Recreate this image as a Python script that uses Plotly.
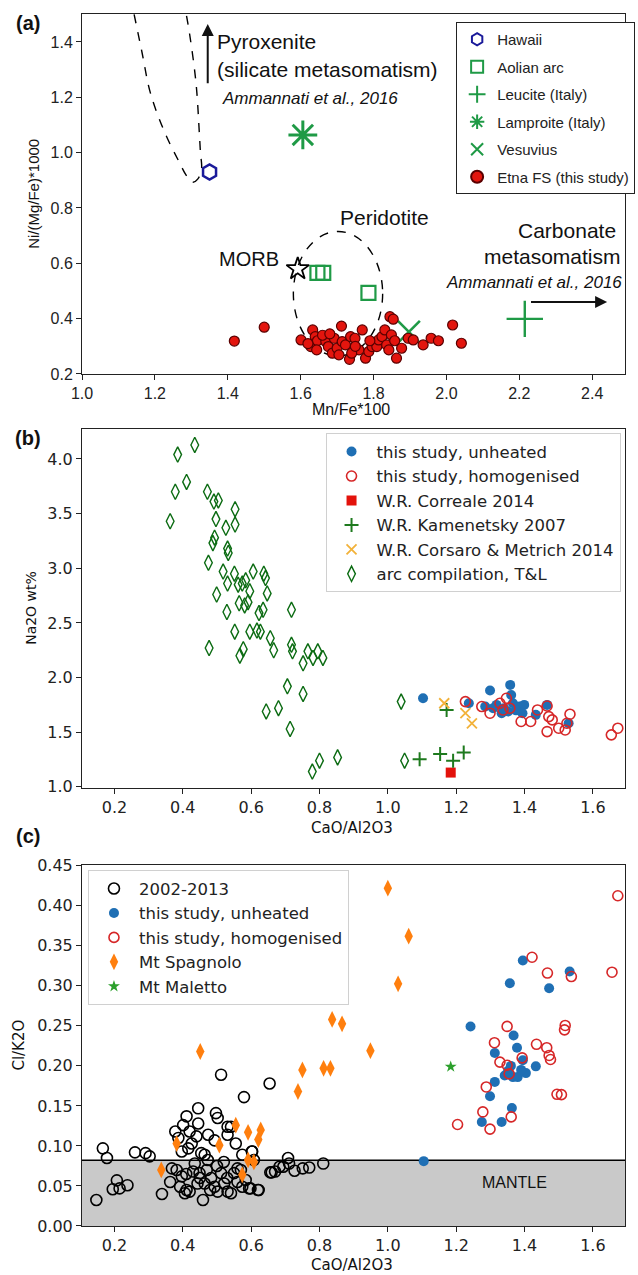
import plotly.graph_objects as go

# ---------------- Panel (a) data ----------------
hawaii_x, hawaii_y = [1.35], [0.93]
aolian_x, aolian_y = [1.646, 1.662, 1.786], [0.565, 0.565, 0.493]
leucite_x, leucite_y = [2.215], [0.399]
lamproite_x, lamproite_y = [1.606], [1.064]
vesuvius_x, vesuvius_y = [1.897], [0.352]
morb_x, morb_y = [1.592], [0.58]
etna_pts = [(1.418, 0.319), (1.50, 0.369), (1.601, 0.323), (1.628, 0.299), (1.633, 0.359),
            (1.64, 0.335), (1.646, 0.32), (1.644, 0.287), (1.669, 0.317), (1.676, 0.299),
            (1.687, 0.275), (1.692, 0.329), (1.70, 0.293), (1.705, 0.269), (1.712, 0.373),
            (1.714, 0.317), (1.723, 0.305), (1.734, 0.253), (1.737, 0.335), (1.749, 0.329),
            (1.76, 0.287), (1.769, 0.359), (1.778, 0.257), (1.787, 0.281), (1.796, 0.299),
            (1.809, 0.299), (1.814, 0.323), (1.823, 0.335), (1.831, 0.359), (1.836, 0.305),
            (1.842, 0.287), (1.849, 0.341), (1.845, 0.407), (1.854, 0.398), (1.863, 0.257),
            (1.877, 0.293), (1.895, 0.329), (1.909, 0.323), (1.936, 0.305), (1.958, 0.329),
            (1.978, 0.320), (2.017, 0.377), (2.041, 0.311), (1.66, 0.34), (1.74, 0.275),
            (1.858, 0.32), (1.79, 0.32), (1.62, 0.31), (1.68, 0.345), (1.75, 0.30)]
etna_x = [p[0] for p in etna_pts]
etna_y = [p[1] for p in etna_pts]
# pyroxenite field boundary (dashed curve)
pyrox_x = [1.143, 1.165, 1.188, 1.228, 1.264, 1.29, 1.304, 1.318, 1.328, 1.325, 1.322, 1.313, 1.295, 1.286]
pyrox_y = [1.50, 1.36, 1.214, 1.07, 0.973, 0.91, 0.893, 0.905, 0.94, 1.0, 1.07, 1.25, 1.431, 1.50]
# peridotite field (ellipse bounds)
perid_box = [1.58, 1.825, 0.265, 0.715]

# ---------------- Panel (b) data ----------------
b_unh = [(1.103, 1.811), (1.299, 1.881), (1.358, 1.933), (1.361, 1.841), (1.318, 1.75),
         (1.333, 1.674), (1.352, 1.689), (1.385, 1.735), (1.399, 1.75), (1.394, 1.674),
         (1.366, 1.765), (1.285, 1.735), (1.433, 1.659), (1.466, 1.75), (1.529, 1.582),
         (1.308, 1.72), (1.237, 1.765), (1.375, 1.70), (1.34, 1.72)]
b_hom = [(1.227, 1.78), (1.275, 1.735), (1.299, 1.674), (1.328, 1.765), (1.347, 1.811),
         (1.357, 1.72), (1.390, 1.598), (1.418, 1.598), (1.438, 1.704), (1.466, 1.74),
         (1.471, 1.643), (1.466, 1.506), (1.481, 1.613), (1.500, 1.537), (1.519, 1.521),
         (1.533, 1.665), (1.524, 1.582), (1.654, 1.476), (1.673, 1.537), (1.337, 1.704)]
b_correale = [(1.184, 1.131)]
b_kamen = [(1.172, 1.704), (1.093, 1.253), (1.153, 1.302), (1.191, 1.24), (1.222, 1.314)]
b_corsaro = [(1.165, 1.765), (1.227, 1.674), (1.246, 1.582)]
b_arc = [(0.435, 4.128), (0.385, 4.04), (0.411, 3.79), (0.378, 3.70), (0.363, 3.43), (0.472, 3.70),
         (0.491, 3.61), (0.504, 3.62), (0.497, 3.45), (0.553, 3.54), (0.553, 3.40), (0.526, 3.37),
         (0.488, 3.23), (0.493, 3.28), (0.531, 3.18), (0.533, 3.14), (0.475, 3.05), (0.518, 2.97),
         (0.551, 2.95), (0.531, 2.86), (0.499, 2.76), (0.529, 2.60), (0.562, 2.85), (0.574, 2.86),
         (0.584, 2.89), (0.606, 2.97), (0.596, 2.79), (0.565, 2.68), (0.581, 2.66), (0.591, 2.69),
         (0.637, 2.95), (0.642, 2.91), (0.647, 2.77), (0.635, 2.62), (0.623, 2.59), (0.617, 2.43),
         (0.627, 2.42), (0.596, 2.42), (0.552, 2.42), (0.656, 2.36), (0.666, 2.25), (0.577, 2.26),
         (0.567, 2.20), (0.477, 2.27), (0.718, 2.62), (0.718, 2.30), (0.721, 2.24), (0.752, 2.13),
         (0.766, 2.24), (0.781, 2.18), (0.795, 2.24), (0.81, 2.18), (0.706, 1.92), (0.752, 1.85),
         (0.680, 1.72), (0.644, 1.69), (0.714, 1.53), (0.779, 1.14), (0.80, 1.24), (0.853, 1.27),
         (1.039, 1.78), (1.049, 1.24)]

# ---------------- Panel (c) data ----------------
c_old = [(0.147, 0.0325), (0.166, 0.097), (0.178, 0.085), (0.195, 0.046), (0.207, 0.057),
         (0.215, 0.047), (0.238, 0.051), (0.26, 0.092), (0.291, 0.091), (0.303, 0.087),
         (0.339, 0.04), (0.363, 0.055), (0.368, 0.072), (0.382, 0.07), (0.392, 0.049),
         (0.397, 0.062), (0.406, 0.041), (0.411, 0.045), (0.42, 0.043), (0.43, 0.068),
         (0.435, 0.078), (0.443, 0.053), (0.449, 0.066), (0.459, 0.0325), (0.464, 0.053),
         (0.473, 0.0825), (0.483, 0.06), (0.493, 0.049), (0.502, 0.043), (0.512, 0.066),
         (0.521, 0.053), (0.531, 0.043), (0.541, 0.041), (0.55, 0.066), (0.56, 0.072),
         (0.574, 0.049), (0.584, 0.0575), (0.598, 0.047), (0.622, 0.045), (0.608, 0.0825),
         (0.656, 0.067), (0.67, 0.068), (0.694, 0.074), (0.708, 0.085), (0.711, 0.078),
         (0.727, 0.069), (0.751, 0.072), (0.77, 0.073), (0.811, 0.078), (0.683, 0.074),
         (0.66, 0.067), (0.62, 0.045), (0.594, 0.047), (0.602, 0.093),
         (0.445, 0.147), (0.411, 0.137), (0.401, 0.126), (0.378, 0.118), (0.387, 0.11),
         (0.42, 0.118), (0.445, 0.128), (0.44, 0.112), (0.426, 0.103), (0.397, 0.093),
         (0.416, 0.097), (0.454, 0.091), (0.474, 0.114), (0.497, 0.141), (0.502, 0.135),
         (0.512, 0.189), (0.531, 0.124), (0.531, 0.114), (0.541, 0.124), (0.555, 0.103),
         (0.579, 0.161), (0.654, 0.178), (0.574, 0.089), (0.603, 0.093), (0.493, 0.107),
         (0.464, 0.089), (0.50, 0.075), (0.52, 0.08), (0.45, 0.06), (0.47, 0.07),
         (0.53, 0.06), (0.56, 0.055), (0.48, 0.045), (0.41, 0.065), (0.57, 0.07)]
c_unh = [(1.105, 0.081), (1.395, 0.3316), (1.357, 0.3033), (1.472, 0.297), (1.532, 0.318),
         (1.242, 0.2493), (1.368, 0.238), (1.378, 0.2227), (1.313, 0.216), (1.433, 0.1994),
         (1.342, 0.188), (1.366, 0.186), (1.38, 0.186), (1.404, 0.191), (1.352, 0.194),
         (1.395, 0.207), (1.313, 0.18), (1.299, 0.162), (1.363, 0.1475), (1.275, 0.13),
         (1.333, 0.13), (1.39, 0.195), (1.36, 0.20)]
c_hom = [(1.422, 0.3357), (1.467, 0.316), (1.537, 0.3116), (1.656, 0.317), (1.349, 0.2493),
         (1.519, 0.2505), (1.517, 0.245), (1.312, 0.229), (1.435, 0.227), (1.465, 0.2227),
         (1.472, 0.213), (1.476, 0.208), (1.393, 0.21), (1.328, 0.2047), (1.349, 0.2008),
         (1.288, 0.1737), (1.495, 0.1645), (1.508, 0.1641), (1.278, 0.1425), (1.361, 0.1363),
         (1.204, 0.1268), (1.299, 0.121), (1.673, 0.4125), (1.355, 0.19)]
c_spag = [(0.451, 0.218), (0.75, 0.195), (0.737, 0.168), (0.555, 0.126), (0.591, 0.117),
          (0.628, 0.12), (0.621, 0.108), (0.382, 0.103), (0.507, 0.101), (0.337, 0.07),
          (0.574, 0.064), (0.591, 0.0825), (0.608, 0.08), (1.0, 0.422), (1.061, 0.362),
          (1.03, 0.3025), (0.837, 0.258), (0.866, 0.2525), (0.949, 0.219), (0.812, 0.197),
          (0.832, 0.197)]
c_maletto = [(1.184, 0.199)]
mantle_limit = 0.082


def xs(pts):
    return [p[0] for p in pts]


def ys(pts):
    return [p[1] for p in pts]


GREEN = "#1f9a46"
fig = go.Figure()

# ---- panel (a) traces ----
fig.add_trace(go.Scatter(x=pyrox_x, y=pyrox_y, mode="lines", line=dict(color="black", width=1.4, dash="dash", shape="spline"),
                         showlegend=False, hoverinfo="skip", xaxis="x", yaxis="y"))
fig.add_trace(go.Scatter(x=hawaii_x, y=hawaii_y, mode="markers", name="Hawaii", legend="legend", legendgroup="a1",
                         marker=dict(symbol="hexagon-open", size=15, color="#1a1a9a", line=dict(width=2.5)), xaxis="x", yaxis="y"))
fig.add_trace(go.Scatter(x=aolian_x, y=aolian_y, mode="markers", name="Aolian arc", legend="legend", legendgroup="a2",
                         marker=dict(symbol="square-open", size=14, color=GREEN, line=dict(width=2.2)), xaxis="x", yaxis="y"))
fig.add_trace(go.Scatter(x=leucite_x, y=leucite_y, mode="markers", name="Leucite (Italy)", legend="legend", legendgroup="a3",
                         marker=dict(symbol="cross-thin-open", size=26, color=GREEN, line=dict(width=2.4, color=GREEN)), xaxis="x", yaxis="y"))
fig.add_trace(go.Scatter(x=lamproite_x, y=lamproite_y, mode="markers", name="Lamproite (Italy)", legend="legend", legendgroup="a4",
                         marker=dict(symbol="asterisk-open", size=24, color=GREEN, line=dict(width=3, color=GREEN)), xaxis="x", yaxis="y"))
fig.add_trace(go.Scatter(x=vesuvius_x, y=vesuvius_y, mode="markers", name="Vesuvius", legend="legend", legendgroup="a5",
                         marker=dict(symbol="x-thin-open", size=22, color=GREEN, line=dict(width=2.6, color=GREEN)), xaxis="x", yaxis="y"))
fig.add_trace(go.Scatter(x=etna_x, y=etna_y, mode="markers", name="Etna FS (this study)", legend="legend", legendgroup="a6",
                         marker=dict(symbol="circle", size=10, color="#e3150e", line=dict(width=1.2, color="#5a0000")), xaxis="x", yaxis="y"))
fig.add_trace(go.Scatter(x=morb_x, y=morb_y, mode="markers", showlegend=False,
                         marker=dict(symbol="star-open", size=17, color="black", line=dict(width=1.8)), xaxis="x", yaxis="y"))

# ---- panel (b) traces ----
fig.add_trace(go.Scatter(x=xs(b_unh), y=ys(b_unh), mode="markers", name="this study, unheated", legend="legend2",
                         marker=dict(symbol="circle", size=10, color="#1f6fb4"), xaxis="x2", yaxis="y2"))
fig.add_trace(go.Scatter(x=xs(b_hom), y=ys(b_hom), mode="markers", name="this study, homogenised", legend="legend2",
                         marker=dict(symbol="circle-open", size=10, color="#d62728", line=dict(width=1.6)), xaxis="x2", yaxis="y2"))
fig.add_trace(go.Scatter(x=xs(b_correale), y=ys(b_correale), mode="markers", name="W.R. Correale 2014", legend="legend2",
                         marker=dict(symbol="square", size=10, color="#e3120b"), xaxis="x2", yaxis="y2"))
fig.add_trace(go.Scatter(x=xs(b_kamen), y=ys(b_kamen), mode="markers", name="W.R. Kamenetsky 2007", legend="legend2",
                         marker=dict(symbol="cross-thin-open", size=10, color="#1e7a1e", line=dict(width=2, color="#1e7a1e")), xaxis="x2", yaxis="y2"))
fig.add_trace(go.Scatter(x=xs(b_corsaro), y=ys(b_corsaro), mode="markers", name="W.R. Corsaro & Metrich 2014", legend="legend2",
                         marker=dict(symbol="x-thin-open", size=10, color="#f2b23a", line=dict(width=1.8, color="#f2b23a")), xaxis="x2", yaxis="y2"))
fig.add_trace(go.Scatter(x=xs(b_arc), y=ys(b_arc), mode="markers", name="arc compilation, T&L", legend="legend2",
                         marker=dict(symbol="diamond-tall-open", size=11, color="#0b6b12", line=dict(width=1.4)), xaxis="x2", yaxis="y2"))

# ---- panel (c) traces ----
fig.add_trace(go.Scatter(x=xs(c_old), y=ys(c_old), mode="markers", name="2002-2013", legend="legend3",
                         marker=dict(symbol="circle-open", size=11, color="black", line=dict(width=1.6)), xaxis="x3", yaxis="y3"))
fig.add_trace(go.Scatter(x=xs(c_unh), y=ys(c_unh), mode="markers", name="this study, unheated", legend="legend3",
                         marker=dict(symbol="circle", size=10, color="#1f6fb4"), xaxis="x3", yaxis="y3"))
fig.add_trace(go.Scatter(x=xs(c_hom), y=ys(c_hom), mode="markers", name="this study, homogenised", legend="legend3",
                         marker=dict(symbol="circle-open", size=10, color="#d62728", line=dict(width=1.6)), xaxis="x3", yaxis="y3"))
fig.add_trace(go.Scatter(x=xs(c_spag), y=ys(c_spag), mode="markers", name="Mt Spagnolo", legend="legend3",
                         marker=dict(symbol="diamond-tall", size=12, color="#ff7f0e"), xaxis="x3", yaxis="y3"))
fig.add_trace(go.Scatter(x=xs(c_maletto), y=ys(c_maletto), mode="markers", name="Mt Maletto", legend="legend3",
                         marker=dict(symbol="star", size=9, color="#2ca02c"), xaxis="x3", yaxis="y3"))

AF = "Liberation Sans, Arial, sans-serif"
DF = "DejaVu Sans, sans-serif"

axis_common = dict(showline=True, mirror=True, linecolor="#222", linewidth=1, ticks="outside", ticklen=5,
                   tickcolor="#222", showgrid=False, zeroline=False)

fig.update_layout(
    width=638, height=1275, margin=dict(l=82, r=3, t=14, b=49),
    plot_bgcolor="white", paper_bgcolor="white",
    xaxis=dict(domain=[0, 1], anchor="y", range=[1.0, 2.49], tickvals=[1.0, 1.2, 1.4, 1.6, 1.8, 2.0, 2.2, 2.4],
               tickformat=".1f", tickfont=dict(family=AF, size=16, color="#222"), **axis_common),
    yaxis=dict(domain=[0.703, 1.0], anchor="x", range=[0.2, 1.501], tickvals=[0.2, 0.4, 0.6, 0.8, 1.0, 1.2, 1.4],
               tickformat=".1f", tickfont=dict(family=AF, size=16, color="#222"), **axis_common),
    xaxis2=dict(domain=[0, 1], anchor="y2", range=[0.105, 1.694], tickvals=[0.2, 0.4, 0.6, 0.8, 1.0, 1.2, 1.4, 1.6],
                tickformat=".1f", tickfont=dict(family=DF, size=16, color="#222"), **axis_common),
    yaxis2=dict(domain=[0.3614, 0.6576], anchor="x2", range=[0.99, 4.274], tickvals=[1.0, 1.5, 2.0, 2.5, 3.0, 3.5, 4.0],
                tickformat=".1f", tickfont=dict(family=DF, size=16, color="#222"), **axis_common),
    xaxis3=dict(domain=[0, 1], anchor="y3", range=[0.105, 1.694], tickvals=[0.2, 0.4, 0.6, 0.8, 1.0, 1.2, 1.4, 1.6],
                tickformat=".1f", tickfont=dict(family=DF, size=16, color="#222"), **axis_common),
    yaxis3=dict(domain=[0, 0.2979], anchor="x3", range=[0, 0.451],
                tickvals=[0, 0.05, 0.1, 0.15, 0.2, 0.25, 0.3, 0.35, 0.4, 0.45],
                tickformat=".2f", tickfont=dict(family=DF, size=16, color="#222"), **axis_common),
    legend=dict(x=0.689, y=0.9934, xanchor="left", yanchor="top", bgcolor="white", bordercolor="#222", borderwidth=1,
                font=dict(family=AF, size=15, color="#222"), tracegroupgap=5, traceorder="grouped",
                itemsizing="constant"),
    legend2=dict(x=0.4485, y=0.654, xanchor="left", yanchor="top", bgcolor="rgba(255,255,255,0.85)",
                 bordercolor="#d0d0d0", borderwidth=1, font=dict(family=DF, size=16.5, color="#222"), itemwidth=40),
    legend3=dict(x=0.011, y=0.2935, xanchor="left", yanchor="top", bgcolor="rgba(255,255,255,0.85)",
                 bordercolor="#d0d0d0", borderwidth=1, font=dict(family=DF, size=16.5, color="#222"), itemwidth=40),
    showlegend=True,
)

# shapes
fig.add_shape(type="circle", xref="x", yref="y", x0=perid_box[0], x1=perid_box[1], y0=perid_box[2], y1=perid_box[3],
              line=dict(color="black", width=1.4, dash="dash"), layer="below")
fig.add_shape(type="rect", xref="x3 domain", yref="y3", x0=0, x1=1, y0=0, y1=mantle_limit,
              fillcolor="#c9c9c9", line=dict(width=0), layer="below")
fig.add_shape(type="line", xref="x3 domain", yref="y3", x0=0, x1=1, y0=mantle_limit, y1=mantle_limit,
              line=dict(color="black", width=1.5), layer="below")

ann = []


def txt(x, y, text, size, family=AF, xref="x", yref="y", angle=0, xanchor="center"):
    ann.append(dict(x=x, y=y, xref=xref, yref=yref, text=text, showarrow=False, textangle=angle,
                    xanchor=xanchor, yanchor="middle", font=dict(family=family, size=size, color="#111")))


# panel (a) texts
txt(1.366, 1.40, "Pyroxenite", 21, xanchor="left")
txt(1.366, 1.299, "(silicate metasomatism)", 21, xanchor="left")
txt(1.38, 1.197, "<i>Ammannati et al., 2016</i>", 17, xanchor="left")
ann.append(dict(x=1.345, y=1.465, ax=1.345, ay=1.245, xref="x", yref="y", axref="x", ayref="y", text="",
                showarrow=True, arrowhead=2, arrowsize=1.2, arrowwidth=2, arrowcolor="#111"))
txt(1.458, 0.616, "MORB", 20)
txt(1.83, 0.764, "Peridotite", 21)
txt(2.331, 0.72, "Carbonate", 21)
txt(2.29, 0.623, "metasomatism", 21)
txt(2.239, 0.532, "<i>Ammannati et al., 2016</i>", 17)
ann.append(dict(x=2.441, y=0.46, ax=2.228, ay=0.46, xref="x", yref="y", axref="x", ayref="y", text="",
                showarrow=True, arrowhead=2, arrowsize=1.2, arrowwidth=2, arrowcolor="#111"))
# panel (c) text
txt(1.371, 0.054, "MANTLE", 16, xref="x3", yref="y3")
# panel labels
for lab, yp in [("(a)", 0.9926), ("(b)", 0.650), ("(c)", 0.3218)]:
    txt(-0.0995, yp, "<b>" + lab + "</b>", 20, xref="paper", yref="paper")
# axis titles
txt(-0.0886, 0.8515, "Ni/(Mg/Fe)*1000", 15, xref="paper", yref="paper", angle=-90)
txt(0.4955, 0.6733, "Mn/Fe*100", 16, xref="paper", yref="paper")
txt(-0.094, 0.51, "Na2O wt%", 14, family=DF, xref="paper", yref="paper", angle=-90)
txt(0.497, 0.3284, "CaO/Al2O3", 15, family=DF, xref="paper", yref="paper")
txt(-0.1157, 0.149, "Cl/K2O", 15, family=DF, xref="paper", yref="paper", angle=-90)
txt(0.497, -0.032, "CaO/Al2O3", 15, family=DF, xref="paper", yref="paper")
fig.update_layout(annotations=ann)

fig.write_html("out.html")
